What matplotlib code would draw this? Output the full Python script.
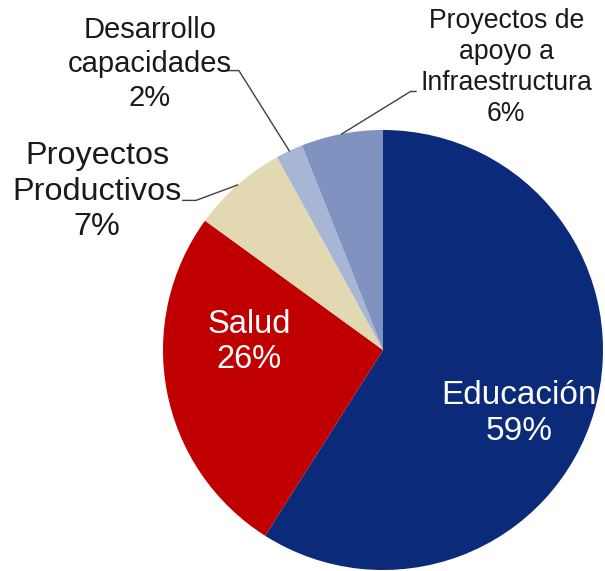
import numpy as np
import matplotlib
matplotlib.use("Agg")
import matplotlib.pyplot as plt

plt.rcParams['font.family'] = ['Liberation Sans', 'DejaVu Sans']

# data
labels = ['Educación', 'Salud', 'Proyectos\nProductivos', 'Desarrollo\ncapacidades',
          'Proyectos de\napoyo a\nInfraestructura']
values = [59, 26, 7, 2, 6]
colors = ['#0b2a7a', '#c00000', '#e2d8b2', '#a7b6d4', '#8092bf']

fig = plt.figure(figsize=(6.05, 5.71), dpi=100)
ax = fig.add_axes([163 / 605, 1 / 571, 440 / 605, 440 / 571])

wedges, _ = ax.pie(values, colors=colors, startangle=90, counterclock=False,
                   radius=1, wedgeprops=dict(linewidth=0))
ax.set_xlim(-1, 1)
ax.set_ylim(-1, 1)
ax.axis('off')

# inside labels: (pos, fontsize, linespacing)
inside = {0: ((0.618, -0.289), 24, 1.22), 1: ((-0.609, 0.036), 23.5, 1.18)}
for i, ((x, y), fs, ls) in inside.items():
    ax.text(x, y, f"{labels[i]}\n{values[i]}%", ha='center', va='center',
            color='white', fontsize=fs, linespacing=ls)

# outside labels with leader lines
# (text pos, elbow pos, fontsize, linespacing)
outside = {
    2: ((-1.30, 0.72), (-0.85, 0.68), 23.3, 1.25),
    3: ((-1.06, 1.302), (-0.655, 1.27), 21, 1.27),
    4: ((0.56, 1.284), (0.125, 1.175), 19.2, 1.26),
}
for i, ((tx, ty), (ex, ey), fs, ls) in outside.items():
    w = wedges[i]
    mid = np.deg2rad((w.theta1 + w.theta2) / 2)
    px, py = np.cos(mid), np.sin(mid)
    if i == 4:
        ax.plot([px, ex, ex + 0.025], [py, ey, ey], color='#404040', lw=1, clip_on=False)
    else:
        ax.plot([px, ex, ex - 0.06], [py, ey, ey], color='#404040', lw=1, clip_on=False)
    ax.text(tx, ty, f"{labels[i]}\n{values[i]}%", ha='center', va='center',
            color='#1a1a1a', fontsize=fs, linespacing=ls)

fig.savefig('out.png', dpi=100)
